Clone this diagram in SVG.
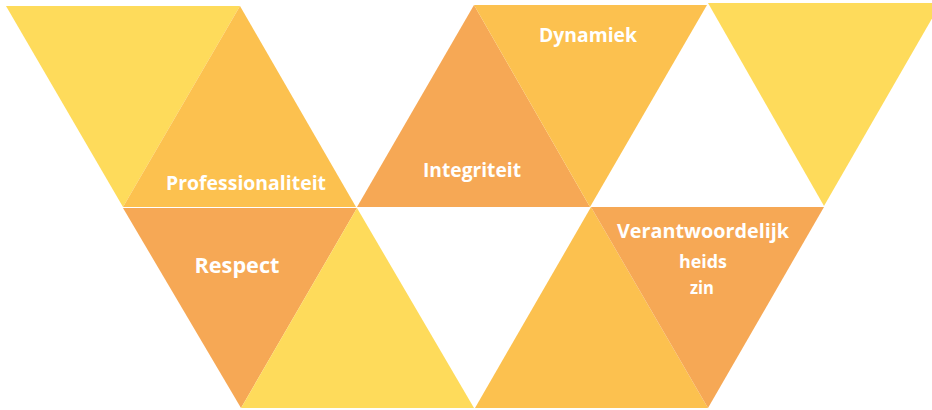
<svg xmlns="http://www.w3.org/2000/svg" width="932" height="410" viewBox="0 0 932 410">
<style>
.y{fill:#FEDB5B}
.yo{fill:#FCC14F}
.o{fill:#F6A855}
.t{font-family:"Open Sans","Noto Sans","Liberation Sans",sans-serif;font-weight:bold;fill:#FFFFFF;text-anchor:middle}
</style>
<rect width="932" height="410" fill="#FFFFFF"/>
<g id="tri-left-top"><polygon class="y" points="6,6 240,6 123,207"/></g>
<g id="professionaliteit"><polygon class="yo" points="240,6 356,207 123,207"/>
<text class="t" x="246" y="190" font-size="20" textLength="160" lengthAdjust="spacingAndGlyphs">Professionaliteit</text></g>
<g id="respect"><polygon class="o" points="123,208 357,208 241,408"/>
<text class="t" x="237" y="273" font-size="22" textLength="85" lengthAdjust="spacingAndGlyphs">Respect</text></g>
<g id="tri-mid-bottom-left"><polygon class="y" points="357,208 474,408 241,408"/></g>
<g id="integriteit"><polygon class="o" points="474,5 590,207 357,207"/>
<text class="t" x="472" y="177" font-size="20" textLength="98" lengthAdjust="spacingAndGlyphs">Integriteit</text></g>
<g id="dynamiek"><polygon class="yo" points="474,5 707,5 590,207"/>
<text class="t" x="588" y="42" font-size="20" textLength="98" lengthAdjust="spacingAndGlyphs">Dynamiek</text></g>
<g id="tri-mid-bottom-right"><polygon class="yo" points="591,207 708,408 475,408"/></g>
<g id="verantwoordelijkheidszin"><polygon class="o" points="591,207 824,207 708,408"/>
<text class="t" x="703" y="238" font-size="19" textLength="172" lengthAdjust="spacingAndGlyphs">Verantwoordelijk</text>
<text class="t" x="703" y="268" font-size="18" textLength="48" lengthAdjust="spacingAndGlyphs">heids</text>
<text class="t" x="702" y="294" font-size="18" textLength="24" lengthAdjust="spacingAndGlyphs">zin</text></g>
<g id="tri-right-top"><polygon class="y" points="708,3 941,3 824,206"/></g>
<g id="connectors"></g>
</svg>
